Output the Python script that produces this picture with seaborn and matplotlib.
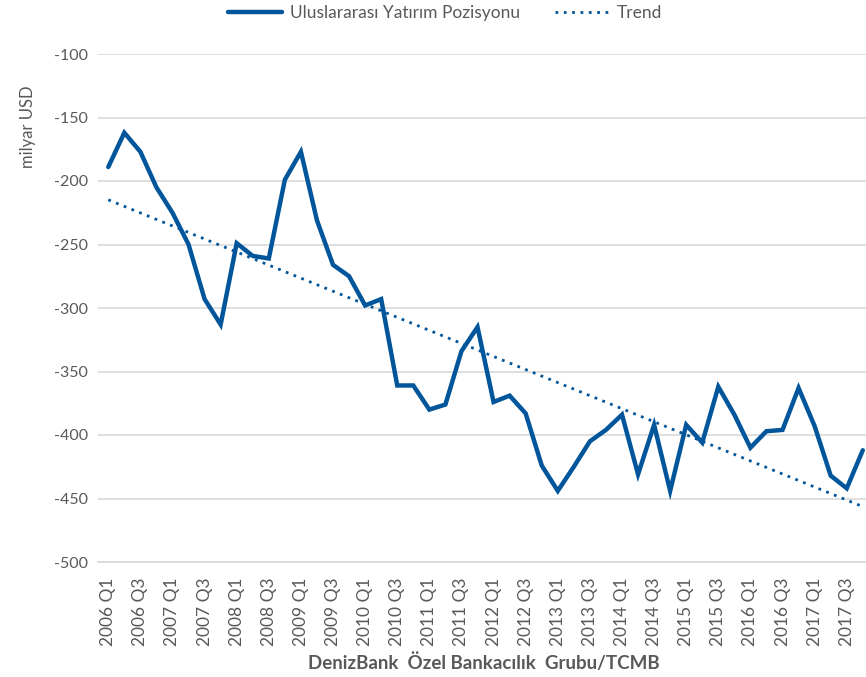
import numpy as np
import pandas as pd
import seaborn as sns
import matplotlib
matplotlib.use("Agg")
import matplotlib.pyplot as plt
from matplotlib.lines import Line2D

# ---- data ----
years = list(range(2006, 2018))
quarters = [f"{y} Q{q}" for y in years for q in (1, 2, 3, 4)]
values = [
    -189, -162, -177, -205, -225, -250, -293, -313,
    -249, -259, -261, -199, -177, -231, -266, -275,
    -298, -293, -361, -361, -380, -376, -334, -315,
    -374, -369, -383, -424, -444, -425, -405, -396,
    -384, -431, -392, -444, -392, -406, -362, -384,
    -410, -397, -396, -363, -393, -432, -442, -412,
]
tick_labels = quarters[::2]
series_name = "Uluslararası Yatırım Pozisyonu"
trend_name = "Trend"
y_ticks = [-500, -450, -400, -350, -300, -250, -200, -150, -100]

df = pd.DataFrame({"idx": np.arange(len(values)), "quarter": quarters, "value": values})

sns.set_theme(style="white")
plt.rcParams["font.family"] = ["Lato", "DejaVu Sans"]

W, H = 866, 677
fig = plt.figure(figsize=(W / 100, H / 100), dpi=100)
ax = fig.add_axes([98 / W, 1 - 562 / H, (866 - 98) / W, (562 - 54) / H])

blue = "#00559B"
grey = "#595959"

sns.lineplot(data=df, x="idx", y="value", ax=ax, color=blue, lw=3.2,
             solid_joinstyle="miter", zorder=3)
sns.regplot(data=df, x="idx", y="value", ax=ax, scatter=False, ci=None,
            color=blue, line_kws=dict(ls=(0, (1, 2)), lw=2.0, zorder=2))

ax.set_xlim(-0.64, 47.2)
ax.set_ylim(-500, -100)
ax.set_yticks(y_ticks)
ax.set_yticklabels([str(v) for v in y_ticks], fontsize=11.5, color=grey)
ax.set_xticks(np.arange(0, len(values), 2))
ax.set_xticklabels(tick_labels, rotation=90, fontsize=12.5, color=grey)
ax.tick_params(axis="y", length=0, pad=7)
ax.tick_params(axis="x", length=0, pad=11)
ax.grid(axis="y", color="#D9D9D9", lw=1.2)
ax.grid(axis="x", visible=False)
for s in ["left", "right", "top"]:
    ax.spines[s].set_visible(False)
ax.spines["bottom"].set_color("#D9D9D9")
ax.spines["bottom"].set_linewidth(1.2)
ax.set_xlabel("")
ax.set_ylabel("")

fig.text(28 / W, 1 - 127 / H, "milyar USD", rotation=90, ha="center", va="center",
         fontsize=12, color=grey)
fig.text(484 / W, 1 - 663 / H, "DenizBank  Özel Bankacılık  Grubu/TCMB", ha="center",
         va="center", fontsize=13.5, fontweight="bold", color=grey)

handles = [Line2D([], [], color=blue, lw=3.2),
           Line2D([], [], color=blue, lw=2.0, ls=(0, (1, 2)))]
fig.legend(handles, [series_name, trend_name], loc="center", bbox_to_anchor=(445 / W, 1 - 13 / H),
           ncol=2, frameon=False, fontsize=12.5, labelcolor=grey, handlelength=3.1,
           columnspacing=2.0, handletextpad=0.45)

fig.savefig("out.png", dpi=100)
